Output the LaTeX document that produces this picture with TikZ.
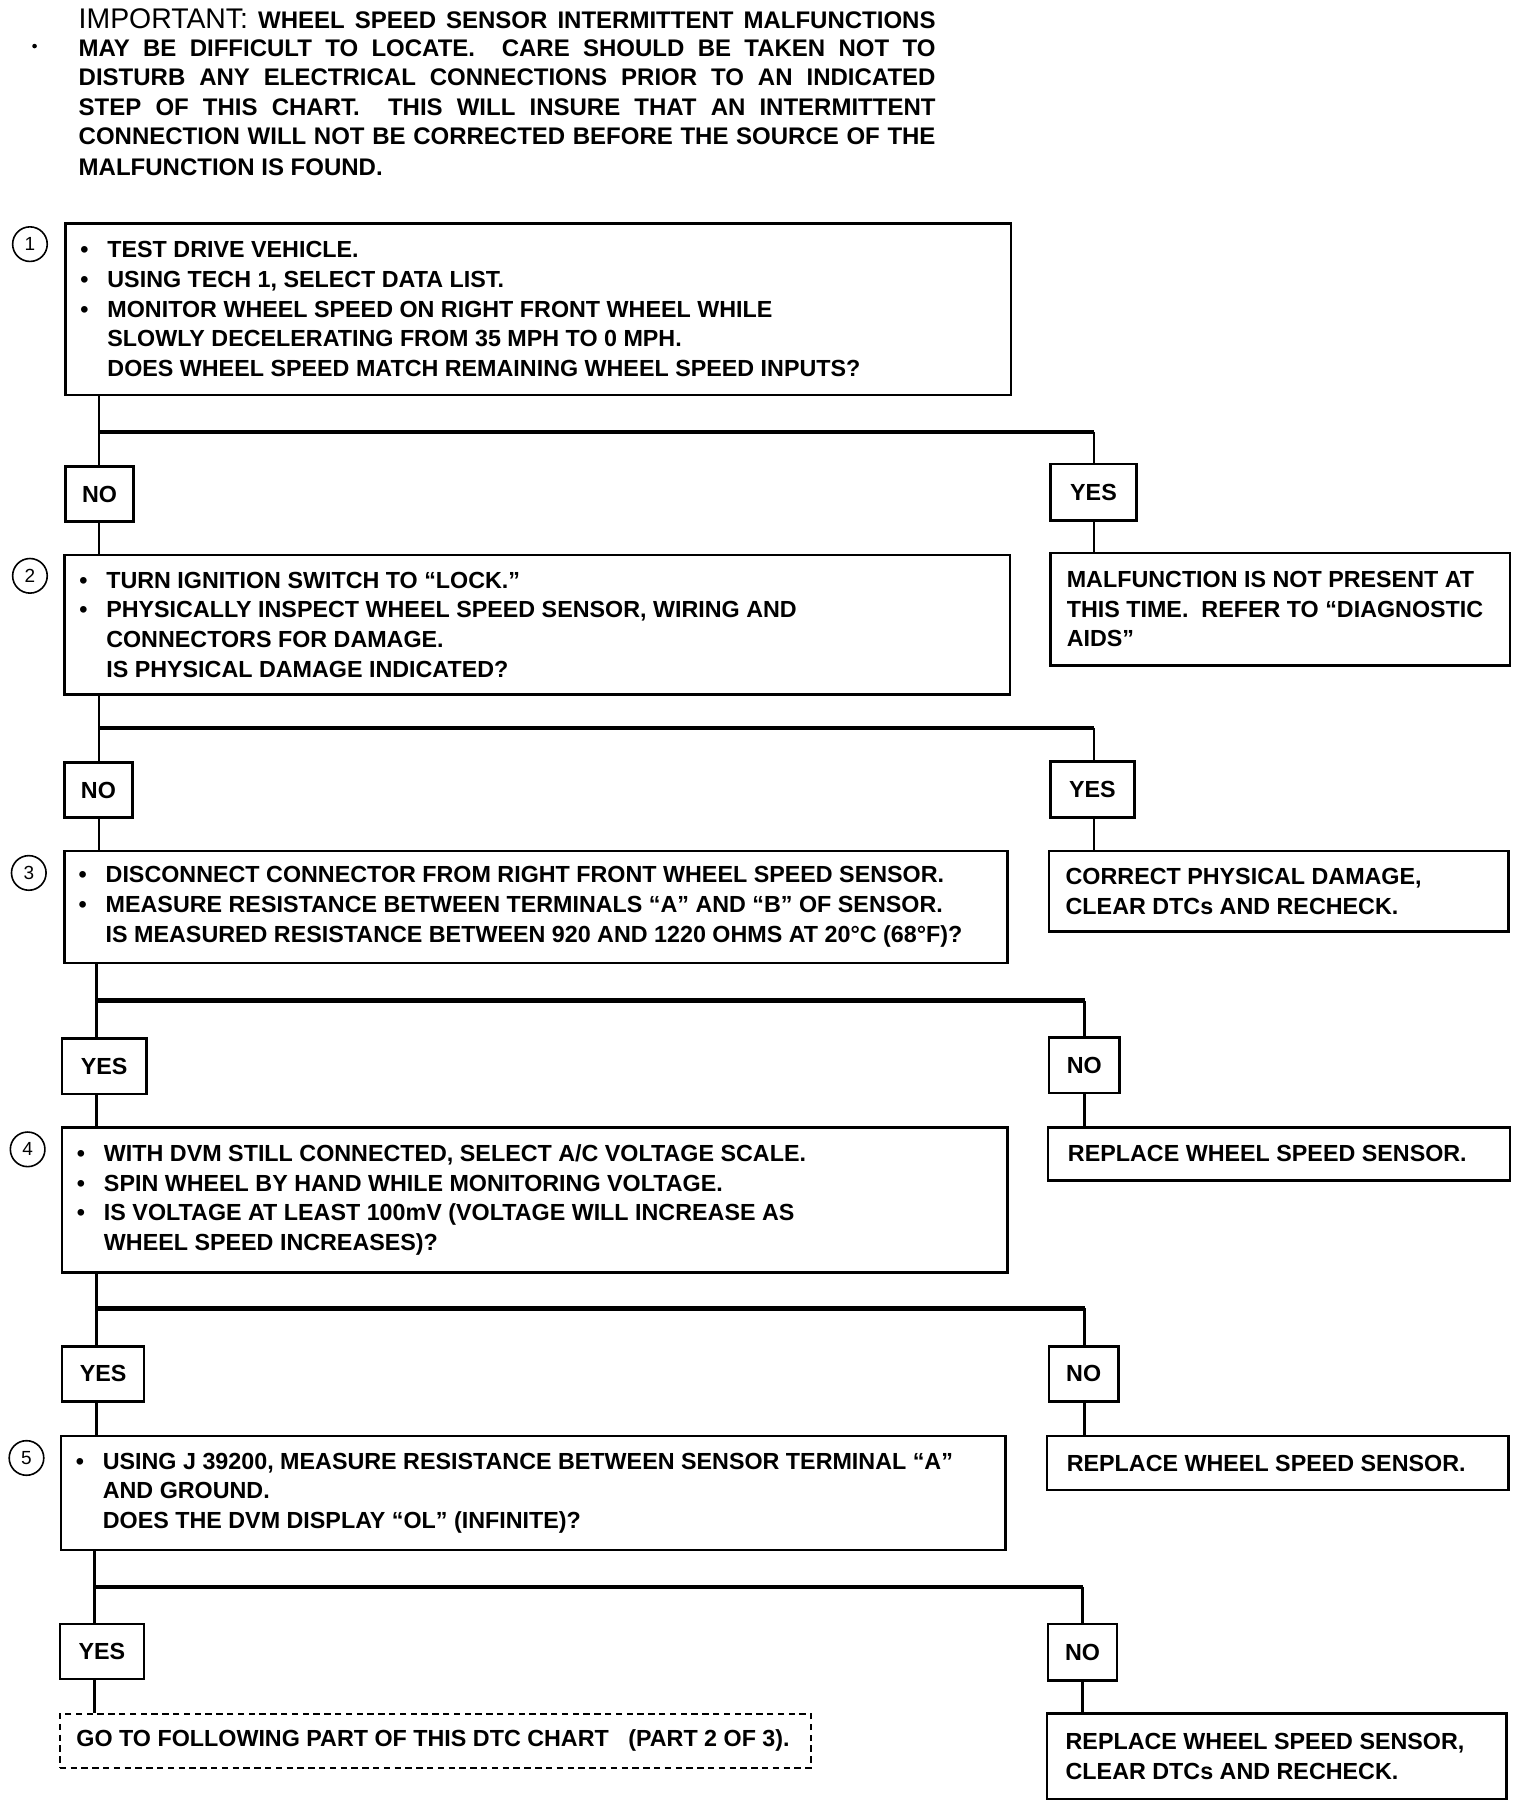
\documentclass[tikz,border=0pt]{standalone}
\usepackage{fontspec}
\setmainfont{Liberation Sans}
\usetikzlibrary{fit}
\newcommand\bodyfont{\fontsize{11.65}{14.83}\selectfont\bfseries}
\newcommand\headfont{\fontsize{12}{14.8}\selectfont\bfseries}
\newcommand\impfont{\fontsize{14.2}{14.8}\selectfont\mdseries}
\newcommand\bul{\makebox[13.5pt][l]{•}}
\newcommand\ind{\hspace*{13.5pt}}
\newcommand\hl[1]{\makebox[428.4pt][s]{#1}}
\tikzset{
  frame/.style={draw, line width=1.2pt, inner sep=0pt, rectangle},
  dframe/.style={draw, line width=1.1pt, inner sep=0pt, rectangle, dash pattern=on 3.2pt off 2.2pt},
  lab/.style={draw, line width=1.3pt, inner sep=0pt, rectangle, font=\bodyfont, minimum height=27.64pt},
  txt/.style={anchor=west, inner sep=0pt, align=left, font=\bodyfont},
  head/.style={anchor=west, inner sep=0pt, font=\headfont},
  num/.style={circle, draw, line width=0.8pt, minimum size=17.3pt, inner sep=0pt, font=\fontsize{9.5}{10}\selectfont},
  conn/.style={line width=1.4pt},
  branch/.style={line width=2.3pt},
}
\begin{document}
\begin{tikzpicture}[x=0.5758pt, y=-0.5758pt]
\useasboundingbox (0,0) rectangle (1320,1563);

% header
\fill (30,40) circle (2);
\node[head] (h1) at (68,16) {\hl{{\impfont IMPORTANT:} WHEEL SPEED SENSOR INTERMITTENT MALFUNCTIONS}};
\node[head] (h2) at (68,42) {\hl{MAY BE DIFFICULT TO LOCATE.\ \ CARE SHOULD BE TAKEN NOT TO}};
\node[head] (h3) at (68,67) {\hl{DISTURB ANY ELECTRICAL CONNECTIONS PRIOR TO AN INDICATED}};
\node[head] (h4) at (68,93) {\hl{STEP OF THIS CHART.\ \ THIS WILL INSURE THAT AN INTERMITTENT}};
\node[head] (h5) at (68,118) {\hl{CONNECTION WILL NOT BE CORRECTED BEFORE THE SOURCE OF THE}};
\node[head] (h6) at (68,145) {MALFUNCTION IS FOUND.};

% step numbers
\node[num] (c1) at (26,212) {1};
\node[num] (c2) at (26,500) {2};
\node[num] (c3) at (25,758) {3};
\node[num] (c4) at (24,998) {4};
\node[num] (c5) at (23,1266) {5};

% main boxes
\node[frame, fit={(57,194) (878,343)}] (b1) {};
\node[txt] (t1) at (69.5,268.5) {\bul TEST DRIVE VEHICLE.\\
\bul USING TECH 1, SELECT DATA LIST.\\
\bul MONITOR WHEEL SPEED ON RIGHT FRONT WHEEL WHILE\\
\ind SLOWLY DECELERATING FROM 35 MPH TO 0 MPH.\\
\ind DOES WHEEL SPEED MATCH REMAINING WHEEL SPEED INPUTS?};

\node[frame, fit={(56,482) (877,603)}] (b2) {};
\node[txt] (t2) at (68.5,542.5) {\bul TURN IGNITION SWITCH TO “LOCK.”\\
\bul PHYSICALLY INSPECT WHEEL SPEED SENSOR, WIRING AND\\
\ind CONNECTORS FOR DAMAGE.\\
\ind IS PHYSICAL DAMAGE INDICATED?};

\node[frame, fit={(56,739) (875,836)}] (b3) {};
\node[txt] (t3) at (68,787.5) {\bul DISCONNECT CONNECTOR FROM RIGHT FRONT WHEEL SPEED SENSOR.\\
\bul MEASURE RESISTANCE BETWEEN TERMINALS “A” AND “B” OF SENSOR.\\
\ind IS MEASURED RESISTANCE BETWEEN 920 AND 1220 OHMS AT 20°C (68°F)?};

\node[frame, fit={(54,979) (875,1105)}] (b4) {};
\node[txt] (t4) at (66.5,1042) {\bul WITH DVM STILL CONNECTED, SELECT A/C VOLTAGE SCALE.\\
\bul SPIN WHEEL BY HAND WHILE MONITORING VOLTAGE.\\
\bul IS VOLTAGE AT LEAST 100mV (VOLTAGE WILL INCREASE AS\\
\ind WHEEL SPEED INCREASES)?};

\node[frame, fit={(53,1247) (873,1346)}] (b5) {};
\node[txt] (t5) at (65.5,1296.5) {\bul USING J 39200, MEASURE RESISTANCE BETWEEN SENSOR TERMINAL “A”\\
\ind AND GROUND.\\
\ind DOES THE DVM DISPLAY “OL” (INFINITE)?};

\node[dframe, fit={(52,1488) (704,1535)}] (b6) {};
\node[txt] (t6) at (66,1511.5) {GO TO FOLLOWING PART OF THIS DTC CHART\ \ \ (PART 2 OF 3).};

% result boxes
\node[frame, fit={(912,480) (1311,578)}] (r1) {};
\node[txt] (s1) at (926,529) {MALFUNCTION IS NOT PRESENT AT\\
THIS TIME.\ \ REFER TO “DIAGNOSTIC\\
AIDS”};
\node[frame, fit={(911,739) (1310,809)}] (r2) {};
\node[txt] (s2) at (925,774) {CORRECT PHYSICAL DAMAGE,\\
CLEAR DTCs AND RECHECK.};
\node[frame, fit={(910,979) (1311,1025)}] (r3) {};
\node[txt] (s3) at (927,1002) {REPLACE WHEEL SPEED SENSOR.};
\node[frame, fit={(909,1247) (1310,1294)}] (r4) {};
\node[txt] (s4) at (926,1270.5) {REPLACE WHEEL SPEED SENSOR.};
\node[frame, fit={(909,1488) (1308,1562)}] (r5) {};
\node[txt] (s5) at (925,1525) {REPLACE WHEEL SPEED SENSOR,\\
CLEAR DTCs AND RECHECK.};

% answer labels
\node[lab, minimum width=33.97pt] (n1) at (86.5,429) {NO};
\node[lab, minimum width=43.19pt, minimum height=28.21pt] (y1) at (949.5,427.5) {YES};
\node[lab, minimum width=33.97pt] (n2) at (85.5,686) {NO};
\node[lab, minimum width=42.03pt, minimum height=28.21pt] (y2) at (948.5,685.5) {YES};
\node[lab, minimum width=42.03pt] (y3) at (90.5,926) {YES};
\node[lab, minimum width=35.12pt] (n3) at (941.5,925) {NO};
\node[lab, minimum width=40.88pt] (y4) at (89.5,1193) {YES};
\node[lab, minimum width=34.55pt] (n4) at (941,1193) {NO};
\node[lab, minimum width=42.03pt] (y5) at (88.5,1434) {YES};
\node[lab, minimum width=34.55pt, minimum height=28.21pt] (n5) at (940,1434.5) {NO};

% branch points
\coordinate (j1) at (86,375);   \coordinate (k1) at (950,375);
\coordinate (j2) at (86,632);   \coordinate (k2) at (950,632);
\coordinate (j3) at (84,869);   \coordinate (k3) at (942,869);
\coordinate (j4) at (84,1136);  \coordinate (k4) at (942,1136);
\coordinate (j5) at (82,1378);  \coordinate (k5) at (940,1378);

% step 1
\draw[conn] (b1.south -| j1) -- (n1.north -| j1);
\draw[branch] (j1) -- (k1);
\draw[conn] (k1) -- (y1.north -| k1);
\draw[conn] (n1.south -| j1) -- (b2.north -| j1);
\draw[conn] (y1.south -| k1) -- (r1.north -| k1);
% step 2
\draw[conn] (b2.south -| j2) -- (n2.north -| j2);
\draw[branch] (j2) -- (k2);
\draw[conn] (k2) -- (y2.north -| k2);
\draw[conn] (n2.south -| j2) -- (b3.north -| j2);
\draw[conn] (y2.south -| k2) -- (r2.north -| k2);
% step 3
\draw[conn] (b3.south -| j3) -- (y3.north -| j3);
\draw[branch] (j3) -- (k3);
\draw[conn] (k3) -- (n3.north -| k3);
\draw[conn] (y3.south -| j3) -- (b4.north -| j3);
\draw[conn] (n3.south -| k3) -- (r3.north -| k3);
% step 4
\draw[conn] (b4.south -| j4) -- (y4.north -| j4);
\draw[branch] (j4) -- (k4);
\draw[conn] (k4) -- (n4.north -| k4);
\draw[conn] (y4.south -| j4) -- (b5.north -| j4);
\draw[conn] (n4.south -| k4) -- (r4.north -| k4);
% step 5
\draw[conn] (b5.south -| j5) -- (y5.north -| j5);
\draw[branch] (j5) -- (k5);
\draw[conn] (k5) -- (n5.north -| k5);
\draw[conn] (y5.south -| j5) -- (b6.north -| j5);
\draw[conn] (n5.south -| k5) -- (r5.north -| k5);
\end{tikzpicture}
\end{document}
